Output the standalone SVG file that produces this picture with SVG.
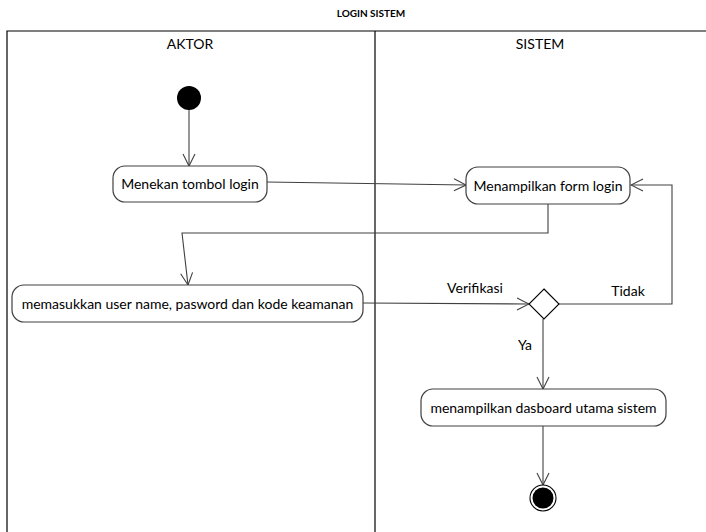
<svg xmlns="http://www.w3.org/2000/svg" width="706" height="532" viewBox="0 0 706 532">
<style>
text{font-family:Lato,"Open Sans","Liberation Sans",sans-serif;fill:#000;font-size:14px}
.t{font-weight:bold;font-size:10px}
.act{fill:#fff;stroke:#404040;stroke-width:1.2}
.ln{fill:none;stroke:#404040;stroke-width:1.1}
.fr{fill:none;stroke:#000;stroke-width:1.2}
</style>
<defs>
<marker id="ah" markerWidth="14" markerHeight="14" refX="13" refY="7" orient="auto" markerUnits="userSpaceOnUse">
<path d="M1,1 L13,7 L1,13" fill="none" stroke="#404040" stroke-width="1.1"/>
</marker>
</defs>
<rect width="706" height="532" fill="#fff"/>
<text class="t" x="371" y="17" text-anchor="middle">LOGIN SISTEM</text>
<g id="swimlanes">
<path class="fr" d="M7,533 V31 H707"/>
<line class="fr" x1="375" y1="31" x2="375" y2="533"/>
<text x="190" y="49" text-anchor="middle">AKTOR</text>
<text x="540" y="49" text-anchor="middle">SISTEM</text>
</g>
<g id="connectors">
<line class="ln" x1="189" y1="109" x2="189" y2="166" marker-end="url(#ah)"/>
<line class="ln" x1="267" y1="182" x2="466" y2="185" marker-end="url(#ah)"/>
<polyline class="ln" points="548,204 548,233 182,233 188,285" marker-end="url(#ah)"/>
<line class="ln" x1="363" y1="303" x2="529" y2="304" marker-end="url(#ah)"/>
<polyline class="ln" points="559,304 672,304 672,185 631,185" marker-end="url(#ah)"/>
<line class="ln" x1="543" y1="319" x2="543" y2="389" marker-end="url(#ah)"/>
<line class="ln" x1="543" y1="426" x2="543" y2="485" marker-end="url(#ah)"/>
<text x="475" y="293" text-anchor="middle">Verifikasi</text>
<text x="628" y="296" text-anchor="middle">Tidak</text>
<text x="525" y="350" text-anchor="middle">Ya</text>
</g>
<g id="start"><circle cx="189" cy="98" r="12" fill="#000"/></g>
<g id="menekan">
<rect class="act" x="113" y="166" width="154" height="36" rx="12"/>
<text x="190" y="189" text-anchor="middle">Menekan tombol login</text>
</g>
<g id="menampilkan">
<rect class="act" x="466" y="167" width="164" height="37" rx="12"/>
<text x="548" y="190.5" text-anchor="middle">Menampilkan form login</text>
</g>
<g id="memasukkan">
<rect class="act" x="12" y="285" width="351" height="37" rx="12"/>
<text x="187.5" y="308.5" text-anchor="middle">memasukkan user name, pasword dan kode keamanan</text>
</g>
<g id="decision">
<polygon points="544,289 559,304 544,319 529,304" fill="#fff" stroke="#000" stroke-width="1.1"/>
</g>
<g id="dasboard">
<rect class="act" x="421" y="389" width="245" height="37" rx="12"/>
<text x="543.5" y="412.5" text-anchor="middle">menampilkan dasboard utama sistem</text>
</g>
<g id="end">
<circle cx="543" cy="498" r="13" fill="#fff" stroke="#000" stroke-width="1.1"/>
<circle cx="543" cy="498" r="10.5" fill="#000"/>
</g>
</svg>
